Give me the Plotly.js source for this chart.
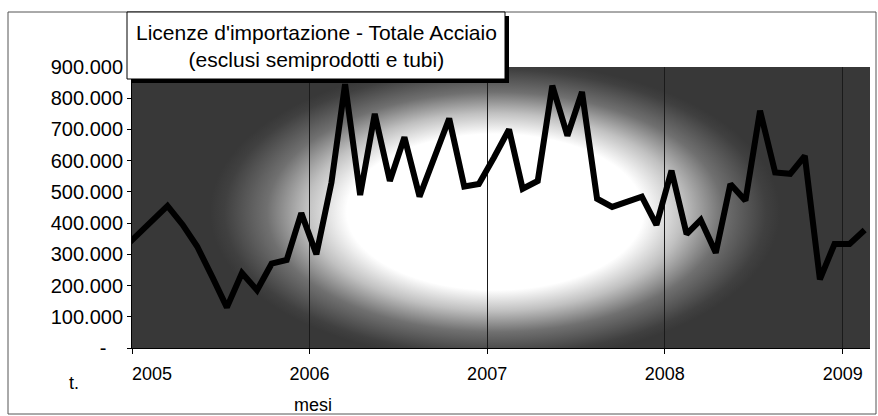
<!DOCTYPE html>
<html>
<head>
<meta charset="utf-8">
<script src="https://cdn.plot.ly/plotly-3.0.1.min.js"></script>
<style>
  html, body { margin: 0; padding: 0; background: #ffffff; }
  #chart { width: 878px; height: 416px; }
</style>
</head>
<body>
<div id="chart"></div>
<script>
// ---- data (tonnes per month) ----
const months = [
  '2004-12',
  '2005-01','2005-02','2005-03','2005-04','2005-05','2005-06','2005-07','2005-08','2005-09','2005-10','2005-11','2005-12',
  '2006-01','2006-02','2006-03','2006-04','2006-05','2006-06','2006-07','2006-08','2006-09','2006-10','2006-11','2006-12',
  '2007-01','2007-02','2007-03','2007-04','2007-05','2007-06','2007-07','2007-08','2007-09','2007-10','2007-11','2007-12',
  '2008-01','2008-02','2008-03','2008-04','2008-05','2008-06','2008-07','2008-08','2008-09','2008-10','2008-11','2008-12',
  '2009-01','2009-02'
];
const tonnes = [
  320000,
  365000, 410000, 455000, 395000, 325000, 228000, 130000, 240000, 185000, 270000, 282000, 432000,
  300000, 530000, 845000, 490000, 750000, 535000, 675000, 485000, 610000, 735000, 517000, 525000,
  610000, 700000, 510000, 535000, 840000, 680000, 820000, 478000, 452000, 468000, 485000, 394000,
  568000, 365000, 410000, 305000, 525000, 472000, 760000, 562000, 558000, 615000, 220000, 333000,
  333000, 378000
];
const yearTicks = ['2005-01-01','2006-01-01','2007-01-01','2008-01-01','2009-01-01'];
const yearLabels = ['2005','2006','2007','2008','2009'];
const yTickVals = [0,100000,200000,300000,400000,500000,600000,700000,800000,900000];
const yTickLabels = ['-','100.000','200.000','300.000','400.000','500.000','600.000','700.000','800.000','900.000'];
const titleLines = ["Licenze d'importazione - Totale Acciaio", "(esclusi semiprodotti e tubi)"];
const yUnit = 't.';
const xName = 'mesi';

// ---- layout geometry (pixels) ----
const W = 878, H = 416;
const M = {l: 132, r: 8, t: 67, b: 68};
const PW = W - M.l - M.r, PH = H - M.t - M.b;
const px = x => (x - M.l) / PW;
const py = y => (H - M.b - y) / PH;

const NB = '\u00a0';
const xTickText = yearLabels.map((t, i) => i === 0 ? NB.repeat(8) + t : t);
const yTickText = yTickLabels.map(t => t === '-' ? '-' + NB.repeat(3) : t);

const font = 'Liberation Sans, Arial, Helvetica, sans-serif';

// background gradient (dark edges, white centre)
const gcx = 495 - M.l, gcy = 212 - M.t;
const svg = `<svg xmlns="http://www.w3.org/2000/svg" width="${PW}" height="${PH}" viewBox="0 0 ${PW} ${PH}" preserveAspectRatio="none">
<defs><radialGradient id="g" gradientUnits="userSpaceOnUse" cx="0" cy="0" r="150" gradientTransform="translate(${gcx} ${gcy}) scale(1.9 1)">
<stop offset="0" stop-color="#ffffff"/>
<stop offset="0.52" stop-color="#ffffff"/>
<stop offset="0.66" stop-color="#c0c0c0"/>
<stop offset="0.80" stop-color="#707070"/>
<stop offset="0.95" stop-color="#404040"/>
<stop offset="1" stop-color="#383838"/>
</radialGradient></defs>
<rect x="0" y="0" width="${PW}" height="${PH}" fill="#383838"/>
<rect x="0" y="0" width="${PW}" height="${PH}" fill="url(#g)"/>
</svg>`;
const bgSrc = 'data:image/svg+xml;charset=utf-8,' + encodeURIComponent(svg);

const trace = {
  type: 'scatter',
  mode: 'lines',
  x: months.map(m => m + '-15'),
  y: tonnes,
  line: {color: '#000000', width: 6, shape: 'linear'},
  hoverinfo: 'skip',
  showlegend: false
};

const layout = {
  width: W, height: H,
  margin: M,
  paper_bgcolor: '#ffffff',
  plot_bgcolor: 'rgba(0,0,0,0)',
  separators: ',.',
  font: {family: font, size: 18, color: '#000000'},
  showlegend: false,
  xaxis: {
    type: 'date',
    range: ['2005-01-01', '2009-02-26'],
    tickmode: 'array',
    tickvals: yearTicks,
    ticktext: xTickText,
    ticks: 'outside', ticklen: 5, tickcolor: '#000', tickwidth: 1,
    showgrid: true, gridcolor: '#1a1a1a', gridwidth: 1,
    showline: true, linecolor: '#000', linewidth: 1,
    zeroline: false,
    tickfont: {family: font, size: 18, color: '#000'},
    ticklabelstandoff: 4,
    fixedrange: true
  },
  yaxis: {
    range: [0, 900000],
    tickmode: 'array',
    tickvals: yTickVals,
    ticktext: yTickText,
    ticks: 'outside', ticklen: 4, tickcolor: '#000', tickwidth: 1,
    showgrid: false,
    showline: true, linecolor: '#000', linewidth: 1,
    zeroline: false,
    tickfont: {family: font, size: 20, color: '#000'},
    fixedrange: true
  },
  images: [{
    source: bgSrc, xref: 'paper', yref: 'paper',
    x: 0, y: 1, sizex: 1, sizey: 1,
    xanchor: 'left', yanchor: 'top',
    sizing: 'stretch', layer: 'below'
  }],
  shapes: [
    // outer chart frame
    {type: 'rect', xref: 'paper', yref: 'paper', x0: px(8), x1: px(876), y0: py(414), y1: py(12),
     line: {color: '#555', width: 1}, fillcolor: 'rgba(0,0,0,0)', layer: 'above'},
    // title box shadow
    {type: 'rect', xref: 'paper', yref: 'paper', x0: px(131), x1: px(509), y0: py(83), y1: py(16),
     line: {width: 0}, fillcolor: '#000000', layer: 'above'},
    // title box
    {type: 'rect', xref: 'paper', yref: 'paper', x0: px(127), x1: px(505), y0: py(79), y1: py(12),
     line: {color: '#000', width: 1}, fillcolor: '#ffffff', layer: 'above'}
  ],
  annotations: [
    {text: titleLines.join('<br>'), xref: 'paper', yref: 'paper', x: px(316), y: py(46.5),
     xanchor: 'center', yanchor: 'middle', showarrow: false,
     font: {family: font, size: 21, color: '#000'}},
    {text: yUnit, xref: 'paper', yref: 'paper', x: px(74), y: py(383),
     xanchor: 'center', yanchor: 'middle', showarrow: false,
     font: {family: font, size: 18, color: '#000'}},
    {text: xName, xref: 'paper', yref: 'paper', x: px(313), y: py(405),
     xanchor: 'center', yanchor: 'middle', showarrow: false,
     font: {family: font, size: 18, color: '#000'}}
  ]
};

Plotly.newPlot('chart', [trace], layout, {displayModeBar: false, staticPlot: true});
</script>
</body>
</html>
